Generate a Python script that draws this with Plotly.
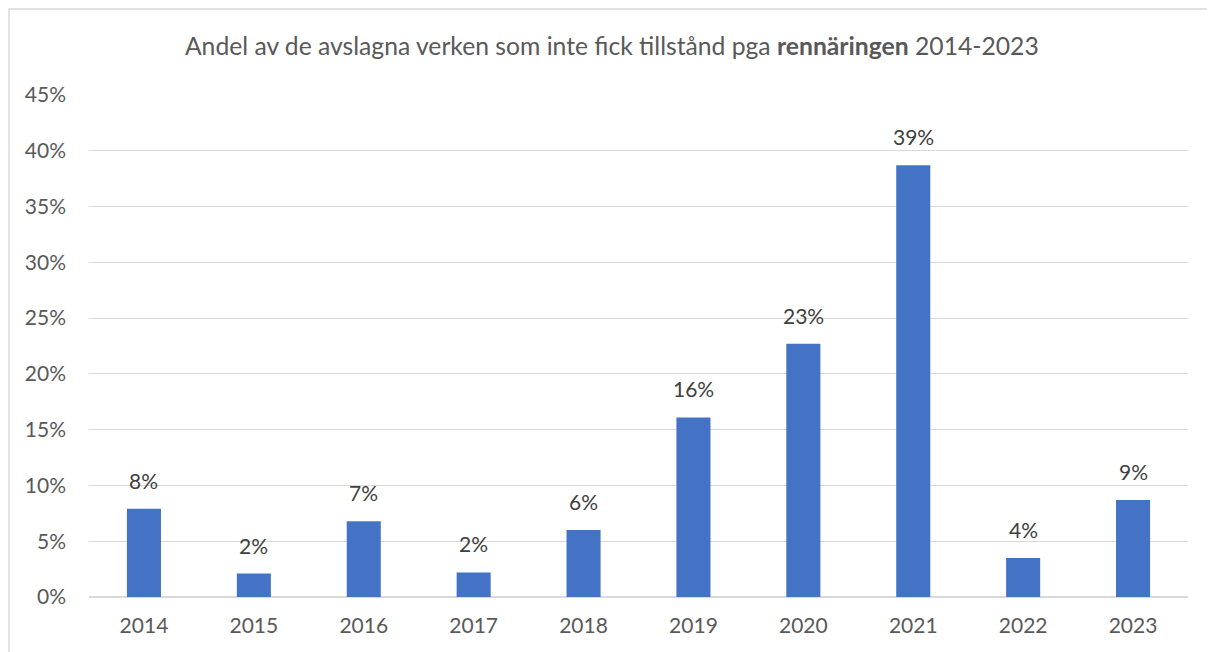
import plotly.graph_objects as go

# Andel (%) per år
years = ['2014', '2015', '2016', '2017', '2018', '2019', '2020', '2021', '2022', '2023']
share = [7.9, 2.1, 6.8, 2.2, 6.0, 16.1, 22.7, 38.7, 3.5, 8.7]
yticks = [0, 5, 10, 15, 20, 25, 30, 35, 40, 45]
ytick_text = [f'{v}%' for v in yticks]

font = 'Lato'

fig = go.Figure(go.Bar(
    x=years, y=share,
    marker=dict(color='#4472C4', line=dict(width=0)),
    hoverinfo='x+y',
))

# data labels above bars (x = category index, numeric-looking names are read as indexes)
for i, v in enumerate(share):
    fig.add_annotation(
        x=i, y=v, text=f'{round(v)}%', showarrow=False,
        yanchor='bottom', yshift=14,
        font=dict(family=font, size=21, color='#404040'),
    )

fig.update_layout(
    width=1215, height=652,
    margin=dict(l=81, r=35, t=87, b=63),
    paper_bgcolor='white', plot_bgcolor='white',
    title=dict(
        text='Andel av de avslagna verken som inte fick tillstånd pga <b>rennäringen</b> 2014-2023',
        x=0.497, xanchor='center', y=1 - 38 / 652, yanchor='middle',
        font=dict(family=font, size=24.7, color='#595959'),
    ),
    bargap=0.69,
    showlegend=False,
    yaxis=dict(
        range=[0, 45], tickvals=yticks, ticktext=ytick_text,
        showgrid=True, gridcolor='#d9d9d9', gridwidth=1,
        zeroline=True, zerolinecolor='#d9d9d9', zerolinewidth=1.5,
        tickfont=dict(family=font, size=21, color='#595959'),
        ticks='', ticklabelstandoff=22,
    ),
    xaxis=dict(
        type='category',
        showgrid=False, showline=False, ticks='',
        tickfont=dict(family=font, size=21, color='#595959'),
        ticklabelstandoff=14,
    ),
    shapes=[dict(
        type='rect', xref='paper', yref='paper',
        x0=-80 / 1099, x1=1.2, y0=-0.3, y1=1 + 86 / 502,
        line=dict(color='#d9d9d9', width=1.5), layer='below',
    )],
)

fig.write_html('out.html')
